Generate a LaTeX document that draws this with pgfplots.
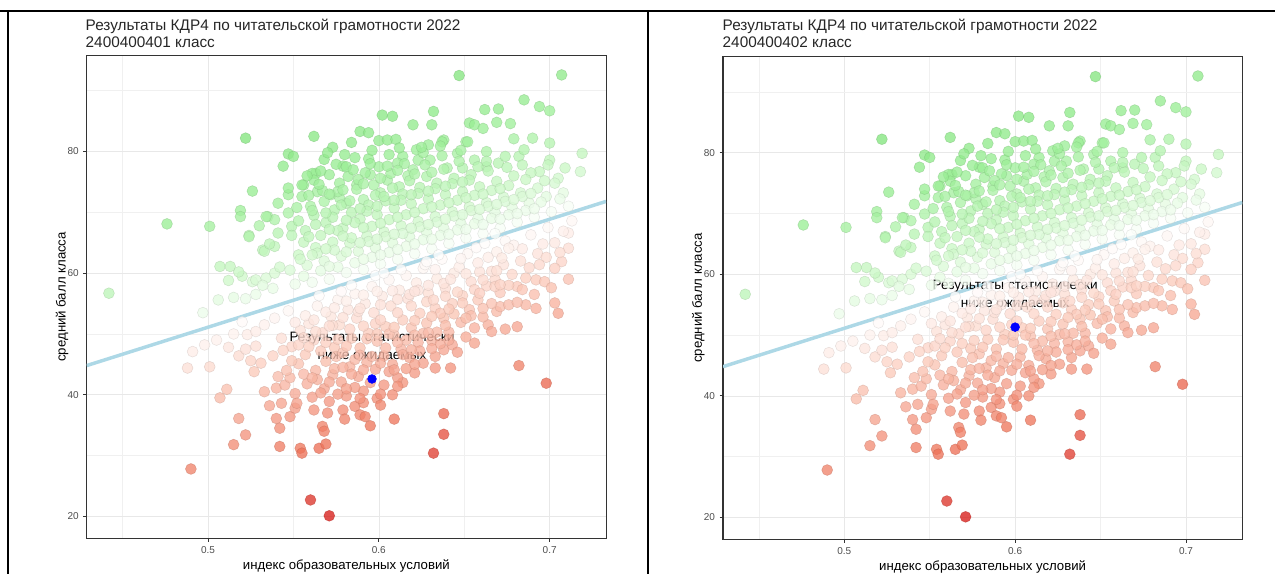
\documentclass[border=0pt]{standalone}
\usepackage{fontspec}
\setmainfont{Liberation Sans}
\usepackage{pgfplots}
\usepackage{pgfplotstable}
\pgfplotsset{compat=1.18}

% schools: education index, mean score
\pgfplotstableread[row sep=\\]{
x y\\
0.442 56.7\\ 0.476 68.1\\ 0.501 67.7\\ 0.506 55.6\\ 0.507 61.1\\ 0.513 61.1\\ 0.519 70.3\\ 0.519 69.3\\
0.522 82.2\\ 0.524 66.2\\ 0.526 73.5\\ 0.526 58.6\\ 0.530 67.8\\ 0.532 63.8\\ 0.535 69.3\\ 0.544 77.6\\
0.547 79.6\\ 0.550 79.2\\ 0.547 72.9\\ 0.556 74.5\\ 0.562 82.5\\ 0.563 76.4\\ 0.568 78.7\\ 0.573 80.7\\
0.579 77.6\\ 0.584 81.5\\ 0.589 83.3\\ 0.594 83.1\\ 0.594 78.8\\ 0.600 81.8\\ 0.605 81.9\\ 0.610 82.0\\
0.600 77.5\\ 0.602 86.0\\ 0.608 85.8\\ 0.620 84.4\\ 0.632 86.6\\ 0.631 84.4\\ 0.638 81.9\\ 0.647 92.5\\
0.651 81.6\\ 0.653 84.7\\ 0.656 84.4\\ 0.661 83.8\\ 0.662 86.9\\ 0.663 80.0\\ 0.669 84.8\\ 0.670 87.0\\
0.677 84.6\\ 0.679 82.1\\ 0.685 88.5\\ 0.690 82.2\\ 0.694 87.4\\ 0.700 86.7\\ 0.700 81.4\\ 0.705 75.6\\
0.707 92.6\\ 0.718 76.7\\ 0.719 79.7\\ 0.555 74.5\\ 0.561 76.4\\ 0.562 75.3\\ 0.622 80.3\\ 0.629 81.1\\
0.637 81.6\\ 0.630 78.6\\ 0.646 79.7\\ 0.652 81.6\\ 0.682 79.2\\ 0.685 80.3\\ 0.694 76.7\\ 0.700 78.6\\
0.663 77.5\\ 0.670 78.1\\ 0.656 78.6\\ 0.649 77.3\\ 0.640 77.3\\ 0.623 78.6\\ 0.614 79.2\\ 0.611 78.1\\
0.620 77.0\\ 0.571 76.2\\ 0.581 77.5\\ 0.577 74.8\\ 0.587 74.5\\ 0.595 76.2\\ 0.605 75.3\\ 0.555 72.6\\
0.560 71.0\\ 0.564 73.4\\ 0.572 72.9\\ 0.581 71.5\\ 0.591 72.1\\ 0.601 73.2\\ 0.612 74.2\\ 0.539 68.8\\
0.547 69.9\\ 0.534 69.3\\ 0.541 66.6\\ 0.549 67.7\\ 0.533 63.6\\ 0.539 64.4\\ 0.524 66.0\\ 0.528 58.9\\
0.534 59.2\\ 0.539 60.0\\
0.538 57.5\\ 0.542 61.0\\ 0.536 64.8\\ 0.541 71.5\\ 0.551 58.2\\ 0.548 60.5\\ 0.553 63.0\\ 0.549 66.2\\
0.552 70.8\\ 0.547 74.0\\ 0.561 58.5\\ 0.558 61.3\\ 0.563 64.2\\ 0.557 67.0\\ 0.562 69.5\\ 0.559 72.8\\
0.566 76.8\\ 0.571 59.0\\ 0.568 62.0\\ 0.573 65.1\\ 0.569 68.3\\ 0.574 70.4\\ 0.567 73.6\\ 0.575 77.9\\
0.581 60.1\\ 0.578 62.8\\ 0.583 64.9\\ 0.579 67.4\\ 0.584 70.0\\ 0.577 72.4\\ 0.582 75.9\\ 0.586 79.0\\
0.591 60.6\\ 0.588 63.6\\ 0.593 66.1\\ 0.589 68.9\\ 0.594 71.2\\ 0.587 73.8\\ 0.592 76.5\\ 0.596 80.2\\
0.601 61.5\\ 0.598 64.2\\ 0.603 66.8\\ 0.599 69.6\\ 0.604 71.9\\ 0.597 74.5\\ 0.606 79.5\\ 0.611 62.3\\
0.608 65.0\\ 0.613 67.8\\ 0.609 70.7\\ 0.614 73.0\\ 0.607 76.4\\ 0.612 80.6\\ 0.621 63.2\\ 0.618 66.0\\
0.623 68.5\\ 0.619 71.4\\ 0.624 74.1\\ 0.617 76.0\\ 0.626 79.8\\ 0.631 64.0\\ 0.628 66.7\\ 0.633 69.3\\
0.629 72.2\\ 0.634 74.8\\ 0.627 77.8\\ 0.636 80.9\\ 0.641 64.9\\ 0.638 67.4\\ 0.643 70.1\\ 0.639 72.9\\
0.644 75.6\\ 0.637 79.3\\ 0.651 65.8\\ 0.648 68.2\\ 0.653 70.9\\ 0.649 73.4\\ 0.654 76.2\\ 0.647 78.4\\
0.661 66.5\\ 0.658 69.0\\ 0.663 71.6\\ 0.659 74.2\\ 0.664 76.8\\ 0.671 67.4\\ 0.668 70.0\\ 0.673 72.5\\
0.669 75.1\\ 0.674 79.2\\ 0.681 68.4\\ 0.678 70.8\\ 0.683 73.2\\ 0.679 76.0\\ 0.684 77.8\\ 0.691 69.2\\
0.688 71.5\\ 0.693 74.0\\ 0.689 76.5\\ 0.701 70.1\\ 0.698 72.6\\ 0.703 74.8\\ 0.699 77.8\\ 0.711 71.0\\
0.708 73.2\\ 0.515 56.0\\ 0.522 55.8\\ 0.528 56.5\\ 0.520 59.5\\ 0.532 58.0\\ 0.512 58.8\\ 0.497 53.5\\
0.518 60.2\\
0.556 59.5\\ 0.554 62.3\\ 0.556 65.1\\ 0.553 68.6\\ 0.558 76.0\\ 0.566 60.4\\ 0.564 63.3\\ 0.566 66.2\\
0.563 68.0\\ 0.568 71.8\\ 0.565 74.6\\ 0.570 79.8\\ 0.576 61.0\\ 0.574 63.8\\ 0.576 67.0\\ 0.573 69.2\\
0.578 71.2\\ 0.576 73.4\\ 0.580 79.5\\ 0.586 61.7\\ 0.584 65.8\\ 0.586 68.3\\ 0.583 71.9\\ 0.588 75.4\\
0.585 77.0\\ 0.596 62.6\\ 0.594 65.2\\ 0.596 67.7\\ 0.593 70.2\\ 0.598 72.8\\ 0.595 78.0\\ 0.606 63.4\\
0.604 66.0\\ 0.606 68.8\\ 0.603 72.6\\ 0.608 74.0\\ 0.605 77.6\\ 0.616 64.4\\ 0.614 66.5\\ 0.616 69.6\\
0.613 72.0\\ 0.618 75.2\\ 0.615 78.0\\ 0.626 65.5\\ 0.624 67.6\\ 0.626 70.6\\ 0.623 73.1\\ 0.628 75.9\\
0.625 80.7\\ 0.636 66.2\\ 0.634 68.4\\ 0.636 71.2\\ 0.633 73.9\\ 0.638 77.1\\ 0.646 67.1\\ 0.644 69.4\\
0.646 72.0\\ 0.643 74.7\\ 0.648 80.2\\ 0.656 68.1\\ 0.654 70.3\\ 0.656 72.8\\ 0.653 75.3\\ 0.658 77.5\\
0.666 69.0\\ 0.664 71.0\\ 0.666 73.6\\ 0.663 78.4\\ 0.676 69.6\\ 0.674 71.8\\ 0.676 74.4\\ 0.675 77.4\\
0.686 70.3\\ 0.684 72.6\\ 0.686 75.4\\ 0.695 71.7\\ 0.697 75.2\\ 0.706 72.2\\ 0.709 77.3\\
0.561 63.0\\ 0.559 66.0\\ 0.561 70.3\\ 0.571 61.1\\ 0.569 64.0\\ 0.571 67.2\\ 0.569 69.9\\ 0.571 73.0\\
0.581 63.5\\ 0.579 66.1\\ 0.581 68.7\\ 0.579 73.7\\ 0.591 62.3\\ 0.589 65.0\\ 0.591 67.5\\ 0.589 70.6\\
0.591 74.7\\ 0.601 63.0\\ 0.599 65.6\\ 0.601 68.2\\ 0.599 71.0\\ 0.601 75.6\\ 0.611 63.9\\ 0.609 66.4\\
0.611 69.2\\ 0.609 72.0\\ 0.611 76.9\\ 0.621 64.8\\ 0.619 67.4\\ 0.621 70.0\\ 0.619 72.9\\ 0.621 76.3\\
0.631 65.6\\ 0.629 68.0\\ 0.631 70.9\\ 0.629 73.5\\ 0.631 76.6\\ 0.641 66.4\\ 0.639 68.9\\ 0.641 71.6\\
0.639 74.3\\ 0.651 67.2\\ 0.649 69.6\\ 0.651 72.4\\ 0.649 75.0\\ 0.661 68.0\\ 0.659 70.5\\ 0.661 73.0\\
0.671 68.9\\ 0.669 71.3\\ 0.671 73.9\\ 0.681 69.8\\ 0.679 72.1\\ 0.691 70.6\\ 0.689 73.1\\
0.488 44.4\\ 0.491 47.1\\ 0.501 44.6\\ 0.507 39.5\\ 0.511 40.9\\ 0.490 27.8\\ 0.515 31.8\\ 0.518 36.1\\
0.522 33.4\\ 0.518 46.4\\ 0.522 47.5\\ 0.527 43.8\\ 0.523 49.9\\ 0.528 50.4\\ 0.533 40.5\\ 0.536 38.2\\
0.540 41.1\\ 0.545 41.6\\ 0.540 36.1\\ 0.542 34.5\\ 0.542 31.5\\ 0.543 38.6\\ 0.548 36.4\\ 0.551 37.8\\
0.554 31.2\\ 0.555 30.4\\ 0.560 22.7\\ 0.571 20.1\\ 0.562 37.5\\ 0.565 31.2\\ 0.569 31.9\\ 0.567 34.8\\
0.568 34.0\\ 0.570 37.0\\ 0.579 37.5\\ 0.580 36.0\\ 0.586 38.1\\ 0.591 38.7\\ 0.589 36.7\\ 0.592 36.4\\
0.595 34.9\\ 0.599 39.4\\ 0.601 38.3\\ 0.608 40.0\\ 0.609 36.0\\ 0.614 42.0\\ 0.632 30.4\\ 0.638 36.9\\
0.638 33.5\\ 0.633 44.4\\ 0.642 44.4\\ 0.633 46.3\\ 0.638 47.4\\ 0.643 48.2\\ 0.656 48.5\\ 0.664 51.5\\
0.666 50.4\\ 0.674 50.8\\ 0.681 51.2\\ 0.669 53.7\\ 0.671 54.5\\ 0.676 54.8\\ 0.686 54.8\\ 0.692 54.2\\
0.703 55.1\\ 0.705 53.4\\ 0.682 44.8\\ 0.698 41.9\\ 0.681 57.8\\ 0.684 57.3\\ 0.692 58.9\\ 0.697 58.6\\
0.707 61.9\\ 0.703 60.8\\ 0.711 64.1\\ 0.711 66.6\\
0.531 45.2\\ 0.528 48.0\\ 0.533 51.5\\ 0.541 43.0\\ 0.538 46.4\\ 0.543 49.3\\ 0.539 52.6\\ 0.551 40.2\\
0.548 42.8\\ 0.553 45.1\\ 0.549 47.9\\ 0.554 50.6\\ 0.547 53.8\\ 0.561 39.6\\ 0.558 41.8\\ 0.563 44.0\\
0.557 46.6\\ 0.562 49.0\\ 0.559 51.7\\ 0.564 54.6\\ 0.571 38.9\\ 0.568 41.0\\ 0.573 43.3\\ 0.569 45.5\\
0.574 47.8\\ 0.567 50.2\\ 0.572 52.9\\ 0.576 55.6\\ 0.581 39.8\\ 0.578 42.1\\ 0.583 44.6\\ 0.579 46.9\\
0.584 49.3\\ 0.577 51.5\\ 0.582 54.0\\ 0.586 56.6\\ 0.591 40.6\\ 0.588 43.0\\ 0.593 45.3\\ 0.589 47.7\\
0.594 50.1\\ 0.587 52.6\\ 0.592 55.0\\ 0.596 57.8\\ 0.603 41.6\\ 0.598 44.2\\ 0.603 46.4\\ 0.599 48.8\\
0.604 51.2\\ 0.597 53.5\\ 0.602 56.2\\ 0.606 58.9\\ 0.611 42.8\\ 0.608 45.0\\ 0.613 47.5\\ 0.609 49.8\\
0.614 52.3\\ 0.607 54.6\\ 0.612 57.2\\ 0.616 59.6\\ 0.621 43.6\\ 0.618 46.1\\ 0.623 48.6\\ 0.619 51.0\\
0.624 53.4\\ 0.617 55.8\\ 0.622 58.4\\ 0.626 60.8\\ 0.631 48.9\\ 0.628 51.8\\ 0.633 54.2\\ 0.629 56.7\\
0.634 59.1\\ 0.627 61.4\\ 0.641 50.3\\ 0.638 52.6\\ 0.643 55.0\\ 0.639 57.5\\ 0.644 60.0\\ 0.637 62.3\\
0.651 49.5\\ 0.648 51.9\\ 0.653 54.0\\ 0.649 56.3\\ 0.654 58.6\\ 0.647 61.0\\ 0.652 63.2\\ 0.661 52.8\\
0.658 55.6\\ 0.663 57.9\\ 0.659 60.2\\ 0.664 62.6\\ 0.657 64.2\\ 0.671 56.8\\ 0.668 59.0\\ 0.673 61.4\\
0.669 63.5\\ 0.674 65.3\\ 0.681 55.2\\ 0.678 59.8\\ 0.683 62.0\\ 0.679 64.6\\ 0.691 56.5\\ 0.688 60.9\\
0.693 63.2\\ 0.689 66.3\\ 0.701 57.6\\ 0.698 62.6\\ 0.703 65.0\\ 0.699 67.5\\ 0.711 59.0\\ 0.713 68.6\\
0.505 49.0\\ 0.512 47.8\\ 0.515 50.0\\ 0.520 52.0\\ 0.498 48.2\\ 0.525 45.6\\
0.546 44.0\\ 0.544 47.3\\ 0.551 51.9\\ 0.556 43.4\\ 0.553 48.2\\ 0.557 53.0\\ 0.552 38.6\\ 0.566 40.3\\
0.564 42.5\\ 0.566 47.2\\ 0.563 50.4\\ 0.569 53.6\\ 0.565 56.3\\ 0.576 40.1\\ 0.574 44.3\\ 0.576 49.1\\
0.573 51.4\\ 0.578 57.0\\ 0.575 46.3\\ 0.586 41.2\\ 0.584 43.4\\ 0.586 45.8\\ 0.583 50.8\\ 0.588 53.7\\
0.584 58.0\\ 0.595 42.0\\ 0.596 46.3\\ 0.593 49.2\\ 0.598 51.7\\ 0.591 56.4\\ 0.598 59.6\\ 0.606 43.8\\
0.604 47.7\\ 0.606 50.0\\ 0.601 54.8\\ 0.608 57.1\\ 0.603 60.0\\ 0.616 44.3\\ 0.614 46.6\\ 0.616 49.0\\
0.611 53.5\\ 0.618 56.5\\ 0.613 60.6\\ 0.626 45.2\\ 0.624 47.2\\ 0.626 50.1\\ 0.621 52.2\\ 0.628 55.3\\
0.623 57.2\\ 0.628 61.9\\ 0.636 48.4\\ 0.634 50.3\\ 0.636 53.4\\ 0.632 55.6\\ 0.638 58.3\\ 0.633 60.6\\
0.635 63.0\\ 0.646 47.0\\ 0.644 53.3\\ 0.646 56.9\\ 0.642 59.0\\ 0.648 62.4\\ 0.656 51.0\\ 0.654 53.0\\
0.656 57.3\\ 0.661 58.9\\ 0.658 61.7\\ 0.662 64.9\\ 0.666 55.0\\ 0.668 57.8\\ 0.666 60.3\\ 0.672 62.5\\
0.676 64.1\\ 0.668 66.5\\ 0.676 58.0\\ 0.686 59.2\\ 0.684 64.0\\ 0.694 61.4\\ 0.696 64.8\\ 0.706 63.4\\
0.708 66.9\\
0.549 45.6\\ 0.556 49.4\\ 0.561 42.8\\ 0.559 47.9\\ 0.562 52.3\\ 0.571 42.1\\ 0.569 48.6\\ 0.571 51.3\\
0.574 54.3\\ 0.581 41.0\\ 0.579 44.5\\ 0.581 48.0\\ 0.579 52.7\\ 0.581 55.4\\ 0.589 39.4\\ 0.591 44.1\\
0.589 46.5\\ 0.591 51.3\\ 0.589 54.2\\ 0.601 40.1\\ 0.601 45.2\\ 0.599 50.0\\ 0.601 52.3\\ 0.599 57.0\\
0.611 41.4\\ 0.609 44.1\\ 0.611 48.6\\ 0.609 51.1\\ 0.611 55.7\\ 0.621 45.0\\ 0.619 47.4\\ 0.621 49.8\\
0.619 54.6\\ 0.621 57.0\\ 0.631 47.6\\ 0.629 50.2\\ 0.631 52.9\\ 0.629 58.0\\ 0.641 49.0\\ 0.639 51.4\\
0.641 54.1\\ 0.639 56.2\\ 0.651 52.6\\ 0.649 55.1\\ 0.651 59.9\\ 0.661 54.2\\ 0.659 56.7\\ 0.671 58.1\\
0.669 60.4\\
}\pts

\definecolor{fitline}{HTML}{ADD8E6}
\definecolor{ticktext}{HTML}{4D4D4D}

\tikzset{note/.style={font=\fontsize{10.2}{12}\selectfont, text=black}}

\pgfplotsset{
  kdr/.style={
    scale only axis,
    width=389.5pt, height=362.1pt,
    xmin=0.429, xmax=0.733, ymin=16.4, ymax=95.8,
    xtick={0.5,0.6,0.7}, ytick={20,40,60,80},
    minor xtick={0.45,0.55,0.65}, minor ytick={30,50,70,90},
    grid=both,
    major grid style={draw=black!9, line width=0.5pt},
    minor grid style={draw=black!6, line width=0.4pt},
    minor tick length=0pt, major tick length=2.5pt,
    tick align=outside, tick pos=left,
    tick style={black!80, line width=0.6pt},
    axis line style={black!80, line width=0.8pt},
    ticklabel style={font=\fontsize{7.5}{9}\selectfont, text=ticktext},
    /pgf/number format/assume math mode=true,
    xlabel={индекс образовательных условий},
    ylabel={средний балл класса},
    label style={font=\fontsize{9.9}{11}\selectfont},
    xlabel style={at={(axis description cs:0.5,-0.058)}, anchor=center},
    ylabel style={at={(axis description cs:-0.0476,0.5)}, anchor=center},
    colormap={resid}{rgb255(0)=(215,30,25); rgb255(12)=(238,118,92);
      rgb255(27)=(251,200,184); rgb255(37)=(255,255,255);
      rgb255(44)=(205,248,200); rgb255(56)=(155,238,150); rgb255(74)=(115,222,110)},
    point meta min=-37, point meta max=37,
  },
  schools/.style={
    scatter, only marks, mark=*, mark size=4.1pt,
    mark options={fill opacity=0.78, draw opacity=0.45, line width=0.4pt},
    point meta={\thisrow{y}-88.8*\thisrow{x}-6.7},
  },
}

\begin{document}
\begin{tikzpicture}[x=0.75pt,y=0.75pt]
\path[use as bounding box] (0,-574) rectangle (1275,0);
\begin{scope}
\clip (0,-574) rectangle (1275,0);

% table frame
\draw[black, line width=0.9pt] (0,-11) -- (1275,-11);
\draw[black, line width=1.6pt] (8,-11) -- (8,-574);
\draw[black, line width=1.6pt] (648,-11) -- (648,-574);

% left panel
\node[anchor=base west, font=\fontsize{11.5}{13}\selectfont, text=black!85] at (81,-30.5) {Результаты КДР4 по читательской грамотности 2022};
\node[anchor=base west, font=\fontsize{11.5}{13}\selectfont, text=black!85] at (81,-47.5) {2400400401 класс};
\begin{axis}[kdr, at={(65.03pt,-403.7pt)}, anchor=south west]
  \addplot[schools] table[x=x, y=y] {\pts};
  \addplot[fitline, line width=2.6pt] coordinates {(0.429,44.8) (0.733,71.8)};
  \addplot[only marks, mark=*, mark size=3.3pt, blue, fill=blue] coordinates {(0.596,42.6)};
  \node[note, yshift=30.75pt] at (axis cs:0.596,42.6) {Результаты статистически};
  \node[note, yshift=16.5pt] at (axis cs:0.596,42.6) {ниже ожидаемых};
\end{axis}

% right panel
\node[anchor=base west, font=\fontsize{11.5}{13}\selectfont, text=black!85] at (718,-30.5) {Результаты КДР4 по читательской грамотности 2022};
\node[anchor=base west, font=\fontsize{11.5}{13}\selectfont, text=black!85] at (718,-47.5) {2400400402 класс};
\begin{axis}[kdr, at={(542.25pt,-404.5pt)}, anchor=south west]
  \addplot[schools] table[x=x, y=y] {\pts};
  \addplot[fitline, line width=2.6pt] coordinates {(0.429,44.8) (0.733,71.8)};
  \addplot[only marks, mark=*, mark size=3.3pt, blue, fill=blue] coordinates {(0.600,51.3)};
  \node[note, yshift=30.75pt] at (axis cs:0.600,51.3) {Результаты статистически};
  \node[note, yshift=16.5pt] at (axis cs:0.600,51.3) {ниже ожидаемых};
\end{axis}
\end{scope}
\end{tikzpicture}
\end{document}
